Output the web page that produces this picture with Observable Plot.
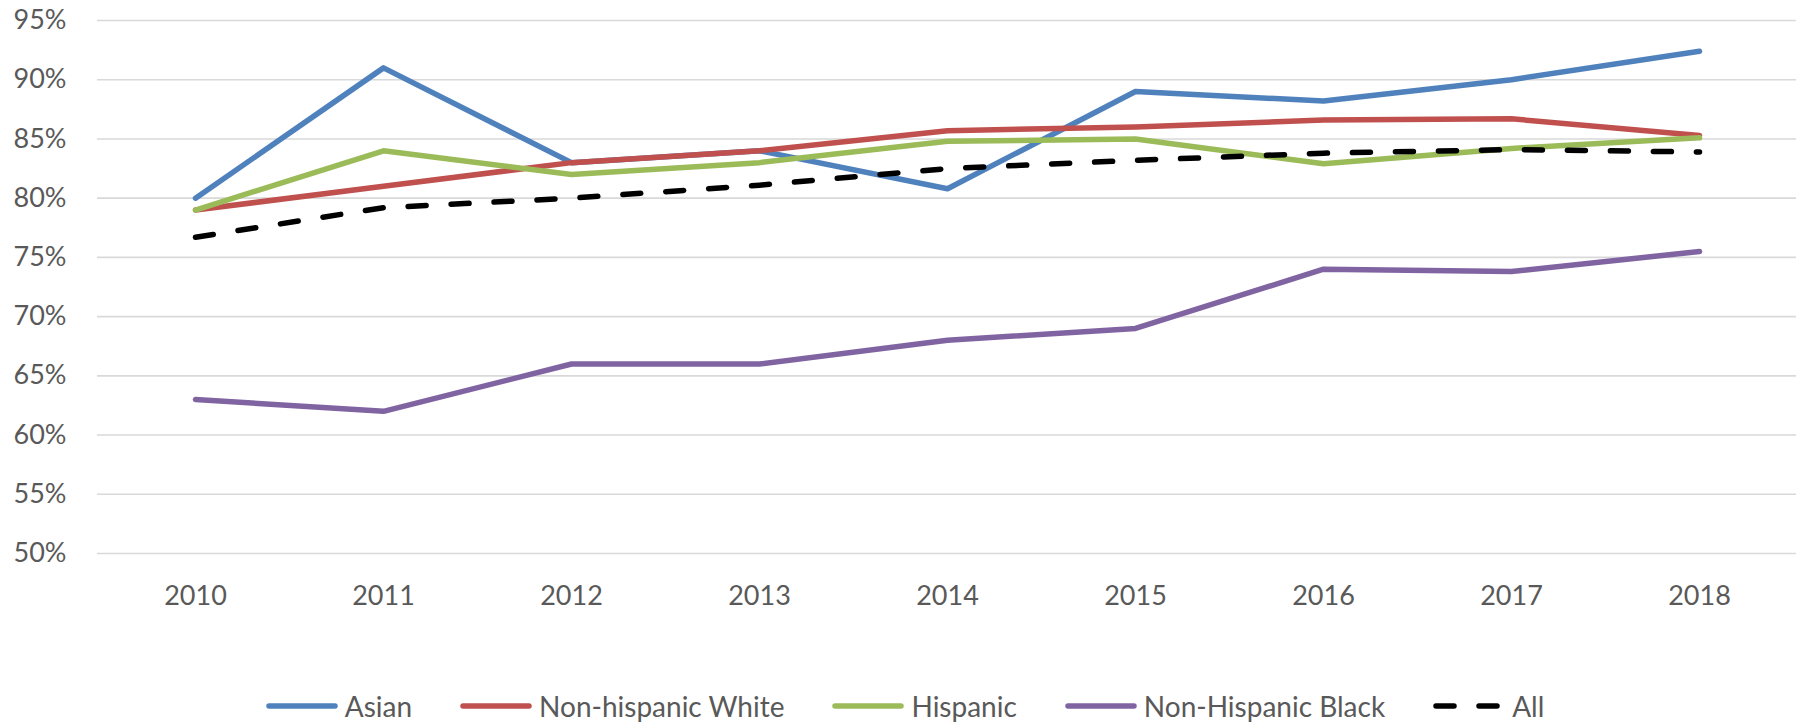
<!DOCTYPE html>
<html>
<head>
<meta charset="utf-8">
<script src="https://cdn.jsdelivr.net/npm/d3@7"></script>
<script src="https://cdn.jsdelivr.net/npm/@observablehq/plot@0.6"></script>
<style>
  html, body { margin: 0; padding: 0; background: #fff; }
  #chart { width: 1800px; }
  .legend {
    height: 83px; display: flex; justify-content: center; align-items: center;
    font-family: Lato, "Open Sans", sans-serif; font-size: 28px; color: #595959;
    padding-left: 10px; box-sizing: border-box; padding-top: 49px;
  }
  .legend .item { display: flex; align-items: center; margin: 0 24px; }
  .legend svg { margin-right: 7px; }
</style>
</head>
<body>
<div id="chart"></div>
<script>
// Years on the horizontal axis
const years = ["2010", "2011", "2012", "2013", "2014", "2015", "2016", "2017", "2018"];

// Percentages per group
const asian    = [80.0, 91.0, 83.0, 84.0, 80.8, 89.0, 88.2, 90.0, 92.4];
const white    = [79.0, 81.0, 83.0, 84.0, 85.7, 86.0, 86.6, 86.7, 85.3];
const hispanic = [79.0, 84.0, 82.0, 83.0, 84.8, 85.0, 82.9, 84.2, 85.1];
const black    = [63.0, 62.0, 66.0, 66.0, 68.0, 69.0, 74.0, 73.8, 75.5];
const all      = [76.7, 79.2, 80.0, 81.1, 82.5, 83.2, 83.8, 84.1, 83.9];

// Series names and colours
const seriesNames = ["Asian", "Non-hispanic White", "Hispanic", "Non-Hispanic Black", "All"];
const seriesValues = [asian, white, hispanic, black, all];
const seriesColors = ["#4F81BD", "#C0504D", "#9BBB59", "#8064A2", "#000000"];

// Y-axis ticks
const yTicks = [50, 55, 60, 65, 70, 75, 80, 85, 90, 95];

const rows = seriesNames.flatMap((name, i) =>
  years.map((year, j) => ({series: name, year, value: seriesValues[i][j]}))
);

const solid = rows.filter(d => d.series !== "All");
const dashed = rows.filter(d => d.series === "All");

const chart = Plot.plot({
  width: 1800,
  height: 640,
  marginTop: 20,
  marginBottom: 87,
  marginLeft: 97,
  marginRight: 4,
  style: {fontFamily: "Lato, 'Open Sans', sans-serif", fontSize: "27px", color: "#595959", background: "#fff"},
  x: {type: "point", domain: years, padding: 0.5, label: null, tickSize: 0, tickPadding: 32},
  y: {domain: [50, 95], ticks: yTicks, tickFormat: d => d + "%", label: null, tickSize: 0, tickPadding: 31},
  color: {domain: seriesNames, range: seriesColors},
  marks: [
    Plot.ruleY(yTicks, {stroke: "#d9d9d9", strokeWidth: 1.6}),
    Plot.line(solid, {x: "year", y: "value", z: "series", stroke: "series",
      strokeWidth: 5.5, strokeLinecap: "round", strokeLinejoin: "round"}),
    Plot.line(dashed, {x: "year", y: "value", stroke: "series",
      strokeWidth: 5.5, strokeLinecap: "round", strokeDasharray: "18,25"})
  ]
});
document.getElementById("chart").appendChild(chart);

// Legend row under the chart
const legend = document.createElement("div");
legend.className = "legend";
seriesNames.forEach((name, i) => {
  const item = document.createElement("div");
  item.className = "item";
  const dash = name === "All" ? ' stroke-dasharray="18,25"' : "";
  item.innerHTML =
    `<svg width="72" height="12"><line x1="3" y1="6" x2="69" y2="6" stroke="${seriesColors[i]}" stroke-width="5.5" stroke-linecap="round"${dash}/></svg><span>${name}</span>`;
  legend.appendChild(item);
});
document.getElementById("chart").appendChild(legend);
</script>
</body>
</html>
